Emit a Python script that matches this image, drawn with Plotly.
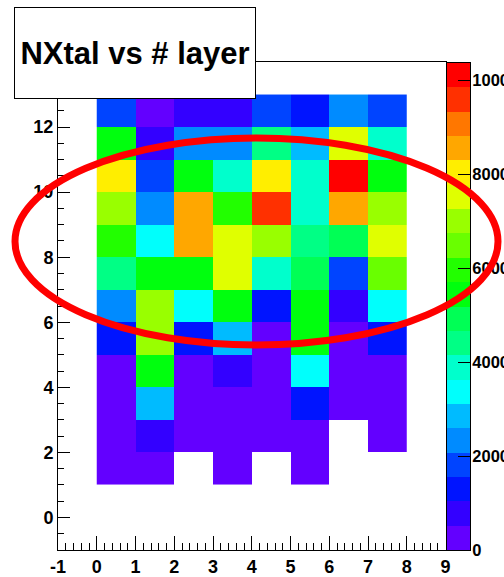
import colorsys
import plotly.graph_objects as go

# ---------------- data ----------------
x_edges = [0, 1, 2, 3, 4, 5, 6, 7, 8]            # "# layer" bins
y_edges = list(range(1, 14))                      # NXtal bins (1..13)
# rows from y=1 (bottom) to y=12 (top), columns x=0..7 ; None = empty bin
z_rows = [
    [250, 300, None, 280, None, 350, None, None],
    [300, 800, 320, 260, 300, 380, None, 280],
    [350, 2850, 300, 270, 330, 1300, 290, 310],
    [330, 5450, 340, 780, 300, 3400, 280, 350],
    [1300, 7000, 1350, 2850, 400, 5450, 420, 1280],
    [2350, 7050, 3400, 5500, 1300, 5450, 800, 3400],
    [4400, 5450, 5500, 7550, 3900, 5000, 1800, 6500],
    [5950, 3400, 8550, 7550, 7000, 4600, 4900, 7550],
    [7000, 2350, 8550, 5950, 9600, 3900, 8600, 7000],
    [8050, 1800, 5450, 3900, 8050, 3900, 10375, 5450],
    [5450, 780, 2350, 2350, 4400, 2850, 7550, 3900],
    [1800, 350, 780, 780, 1800, 1300, 2350, 1800],
]
z_min = 0
z_max = 10375
n_levels = 20
colorbar_ticks = [0, 2000, 4000, 6000, 8000, 10000]
colorbar_labels = ["0", "2000", "4000", "6000", "8000", "10000"]
x_ticks = list(range(-1, 10))
x_tick_labels = ["-1", "0", "1", "2", "3", "4", "5", "6", "7", "8", "9"]
y_ticks = list(range(0, 13, 2))
y_tick_labels = ["0", "2", "4", "6", "8", "10", "12"]
title_text = "NXtal vs # layer"

# ---------------- ROOT-like "pretty" palette, 20 contour levels ----------------
def hue_rgb(h):
    r, g, b = colorsys.hls_to_rgb(h / 360.0, 0.5, 1.0)
    return "rgb(%d,%d,%d)" % (round(r * 255), round(g * 255), round(b * 255))

level_colors = []
for i in range(n_levels):
    k = int((i + 0.99) * 50 / n_levels)
    level_colors.append(hue_rgb(280 - (k + 1) * 280 / 50))

colorscale = []
for i, c in enumerate(level_colors):
    colorscale.append([i / n_levels, c])
    colorscale.append([(i + 1) / n_levels, c])

cb_centers = [z_min + (i + 0.5) * (z_max - z_min) / n_levels for i in range(n_levels)]

FONT = "Liberation Sans, Arial, sans-serif"
tickfont = dict(family=FONT, size=18, color="black", weight="bold")
cbfont = dict(family=FONT, size=16.5, color="black", weight="bold")

W, H = 504, 577
ML, MR, MT, MB = 58, 0, 62, 27
PW = W - ML - MR
PH = H - MT - MB

def px_x(p):
    return (p - ML) / PW

def px_y(p):
    return (H - MB - p) / PH

fig = go.Figure()
fig.add_trace(go.Heatmap(
    x=x_edges, y=y_edges, z=z_rows,
    zmin=z_min, zmax=z_max, colorscale=colorscale,
    showscale=False, hoverongaps=False,
    xaxis="x", yaxis="y",
))
# palette bar (drawn as a heatmap so the ellipse can lie above it)
fig.add_trace(go.Heatmap(
    x=[0], y=cb_centers, z=[[v] for v in cb_centers],
    zmin=z_min, zmax=z_max, colorscale=colorscale,
    showscale=False, xaxis="x2", yaxis="y2",
))

fig.update_layout(
    width=W, height=H,
    margin=dict(l=ML, r=MR, t=MT, b=MB, pad=0, autoexpand=False),
    paper_bgcolor="white", plot_bgcolor="white",
    showlegend=False,
    xaxis=dict(
        domain=[0, px_x(445.5)], anchor="y", range=[-1, 9], automargin=False,
        tickvals=x_ticks, ticktext=x_tick_labels,
        ticks="inside", ticklen=14, tickwidth=1, tickcolor="black",
        minor=dict(dtick=0.2, ticks="inside", ticklen=7, tickcolor="black", tickwidth=1),
        showline=True, mirror=True, linecolor="black", linewidth=1,
        showgrid=False, zeroline=False, tickfont=tickfont, ticklabelstandoff=0,
    ),
    yaxis=dict(
        domain=[0, 1], anchor="x", range=[-1, 14], automargin=False,
        tickvals=y_ticks, ticktext=y_tick_labels,
        ticks="inside", ticklen=12, tickwidth=1, tickcolor="black",
        minor=dict(dtick=0.5, ticks="inside", ticklen=6, tickcolor="black", tickwidth=1),
        showline=True, mirror=True, linecolor="black", linewidth=1,
        showgrid=False, zeroline=False, tickfont=tickfont,
    ),
    xaxis2=dict(
        domain=[px_x(447), px_x(470)], anchor="y2", range=[-0.5, 0.5], automargin=False,
        showticklabels=False, ticks="", showline=True, mirror=True,
        linecolor="black", linewidth=1, showgrid=False, zeroline=False,
    ),
    yaxis2=dict(
        domain=[0, px_y(63)], anchor="x2", side="right", range=[z_min, z_max],
        automargin=False,
        tickvals=colorbar_ticks, ticktext=colorbar_labels,
        ticks="inside", ticklen=12, tickwidth=1, tickcolor="black",
        showline=True, mirror=True, linecolor="black", linewidth=1,
        showgrid=False, zeroline=False, tickfont=cbfont, ticklabelstandoff=-2,
    ),
)

fig.add_shape(
    type="circle", xref="paper", yref="paper",
    x0=px_x(15), x1=px_x(498), y0=px_y(345), y1=px_y(138),
    line=dict(color="red", width=7), layer="above",
)

fig.add_annotation(
    xref="paper", yref="paper", x=px_x(135), y=px_y(53),
    xanchor="center", yanchor="middle",
    text=title_text, showarrow=False,
    font=dict(family=FONT, size=31, color="black", weight="bold"),
    bgcolor="white", bordercolor="black", borderwidth=1, borderpad=0,
    width=240, height=90,
)

fig.write_html(
    "out.html",
    config={"displayModeBar": False},
    post_script="document.body.style.margin='0';document.body.style.overflow='hidden';",
)
